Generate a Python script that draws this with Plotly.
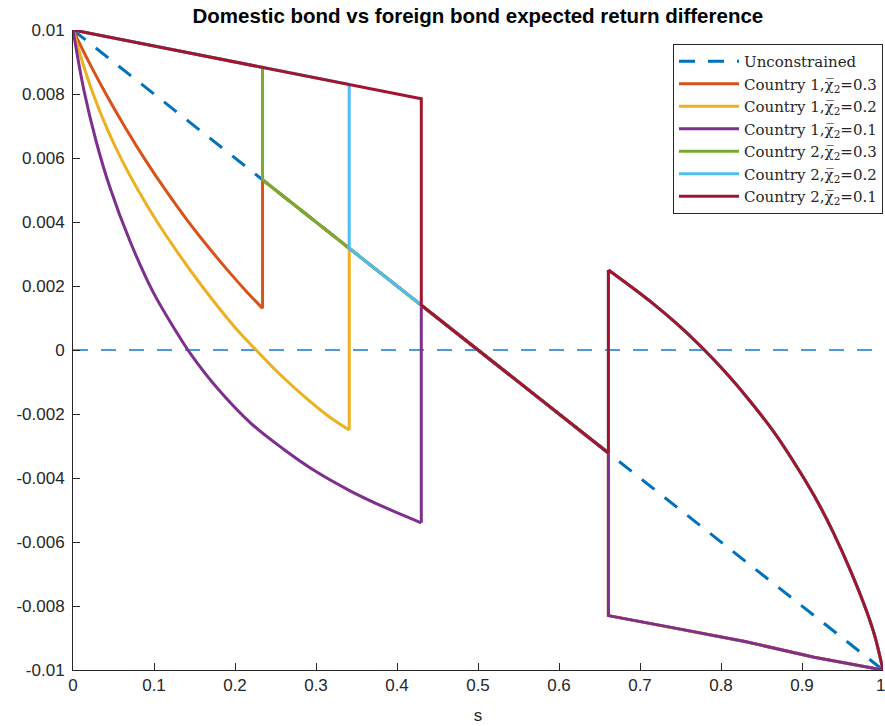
import plotly.graph_objects as go

# ---- data -----------------------------------------------------------------
# unconstrained return difference and the zero reference
s_unc = [0.0, 1.0]
v_unc = [0.01, -0.01]
s_zero = [0.0, 1.0]
v_zero = [0.0, 0.0]

# points on the unconstrained line where a constraint switches on/off
s_kink = [0.234, 0.341, 0.43, 0.661]
v_kink = [0.00532, 0.00318, 0.0014, -0.00322]

# country 2 constraint binding (small s)
s_upper = [0.0, 0.234, 0.341, 0.43]
v_upper = [0.01, 0.00883, 0.0083, 0.00785]

# country 1 constraint binding (large s)
s_lower = [0.661, 0.745, 0.828, 0.915, 1.0]
v_lower = [-0.0083, -0.0087, -0.0091, -0.0096, -0.01]

# country 2 branch for large s
s_high = [0.661, 0.69, 0.7127, 0.745, 0.774, 0.805, 0.836, 0.868, 0.898, 0.92,
          0.939, 0.96, 0.98, 0.99, 1.0]
v_high = [0.0025, 0.00196, 0.00152, 0.00083, 0.00014, -0.00068, -0.0016, -0.00266,
          -0.00383, -0.00478, -0.00572, -0.0069, -0.00818, -0.00895, -0.0100]

# country 1 branches for small s, one per bound
s_c1_03 = [0.0, 0.02, 0.04, 0.065, 0.09, 0.115, 0.14, 0.165, 0.19, 0.213, 0.234]
v_c1_03 = [0.01, 0.00898, 0.00803, 0.00693, 0.00591, 0.00497, 0.00409, 0.00328,
           0.00252, 0.00186, 0.0013]

s_c1_02 = [0.0, 0.012, 0.025, 0.042, 0.06, 0.082, 0.104, 0.13, 0.155, 0.18, 0.205,
           0.226, 0.255, 0.285, 0.315, 0.341]
v_c1_02 = [0.01, 0.00897, 0.00799, 0.00692, 0.00595, 0.00492, 0.0040, 0.00302,
           0.00214, 0.00132, 0.00056, 0.0, -0.00075, -0.00144, -0.00206, -0.0025]

s_c1_01 = [0.0, 0.0136, 0.0288, 0.0453, 0.0704, 0.0991, 0.128, 0.1465, 0.178, 0.22,
           0.26, 0.30, 0.342, 0.385, 0.43]
v_c1_01 = [0.01, 0.0081, 0.0065, 0.0051, 0.0034, 0.0018, 0.00055, -0.00017, -0.00119,
           -0.0023, -0.0031, -0.0038, -0.0044, -0.00492, -0.0054]

bounds = ["0.3", "0.2", "0.1"]
thresholds = [0.234, 0.341, 0.43]

x_ticks = [0, 0.1, 0.2, 0.3, 0.4, 0.5, 0.6, 0.7, 0.8, 0.9, 1]
x_tick_text = ["0", "0.1", "0.2", "0.3", "0.4", "0.5", "0.6", "0.7", "0.8", "0.9", "1"]
y_ticks = [0.01, 0.008, 0.006, 0.004, 0.002, 0, -0.002, -0.004, -0.006, -0.008, -0.01]
y_tick_text = ["0.01", "0.008", "0.006", "0.004", "0.002", "0", "-0.002", "-0.004",
               "-0.006", "-0.008", "-0.01"]

# MATLAB default colour order
c_unc = "#0072BD"
c1_colors = ["#D95319", "#EDB120", "#7E2F8E"]
c2_colors = ["#77AC30", "#4DBEEE", "#A2142F"]
LW = 3


def kinks_from(thr):
    pts = [(s, v) for s, v in zip(s_kink, v_kink) if s >= thr - 1e-9]
    return [p[0] for p in pts], [p[1] for p in pts]


def label(country, bound):
    return f"Country {country},\u03c7\u0305<sub>2</sub>={bound}"


fig = go.Figure()

fig.add_trace(go.Scatter(x=s_zero, y=v_zero, mode="lines", showlegend=False,
                         hoverinfo="skip",
                         line=dict(color="#4d9bd6", width=2, dash="15px,13px")))

fig.add_trace(go.Scatter(x=s_unc, y=v_unc, mode="lines", name="Unconstrained",
                         line=dict(color=c_unc, width=LW, dash="16px,13px")))

# Country 1: curved branch, jump to the unconstrained line, then the lower branch
c1_curves = [(s_c1_03, v_c1_03), (s_c1_02, v_c1_02), (s_c1_01, v_c1_01)]
for (sc, vc), thr, b, col in zip(c1_curves, thresholds, bounds, c1_colors):
    grp = f"c1_{b}"
    ks, kv = kinks_from(thr)
    xs = [sc[-1]] + ks + s_lower
    ys = [vc[-1]] + kv + v_lower
    fig.add_trace(go.Scatter(x=xs, y=ys, mode="lines", legendgroup=grp,
                             showlegend=False, line=dict(color=col, width=LW)))
    fig.add_trace(go.Scatter(x=sc, y=vc, mode="lines", name=label(1, b),
                             legendgroup=grp,
                             line=dict(color=col, width=LW, shape="spline",
                                       smoothing=1.0)))

# Country 2: upper branch, drop to the unconstrained line, then the high branch
for thr, b, col in zip(thresholds, bounds, c2_colors):
    grp = f"c2_{b}"
    us = [s for s in s_upper if s <= thr + 1e-9]
    uv = v_upper[:len(us)]
    ks, kv = kinks_from(thr)
    xs = us + ks + s_high[:1]
    ys = uv + kv + v_high[:1]
    fig.add_trace(go.Scatter(x=xs, y=ys, mode="lines", name=label(2, b),
                             legendgroup=grp, line=dict(color=col, width=LW)))
    fig.add_trace(go.Scatter(x=s_high, y=v_high, mode="lines", legendgroup=grp,
                             showlegend=False,
                             line=dict(color=col, width=LW, shape="spline",
                                       smoothing=1.0)))

axis_col = "#262626"
tick_font = dict(family="Liberation Sans, Arial, sans-serif", size=17, color=axis_col)

# the last x tick label sits at the page edge: draw it right-aligned so it stays whole
axis_tick_text = x_tick_text[:-1] + [""]
fig.add_annotation(x=x_ticks[-1], xref="x", y=0, yref="paper",
                   text=x_tick_text[-1], showarrow=False, xanchor="right",
                   yanchor="top", xshift=4, yshift=-4, font=tick_font)

fig.update_layout(
    width=885, height=726,
    margin=dict(l=73, r=2, t=30, b=56),
    paper_bgcolor="white", plot_bgcolor="white",
    title=dict(text="<b>Domestic bond vs foreign bond expected return difference</b>",
               x=0.54, xanchor="center", y=0.978, yanchor="middle",
               font=dict(family="Liberation Sans, Arial, sans-serif", size=20.5,
                         color="black")),
    legend=dict(x=1, xanchor="right", y=0.978, yanchor="top",
                bgcolor="white", bordercolor=axis_col, borderwidth=1,
                font=dict(family="DejaVu Serif, Liberation Serif, serif", size=15,
                          color=axis_col),
                itemwidth=60, tracegroupgap=0),
    showlegend=True,
)

fig.update_xaxes(range=[0, 1], tickvals=x_ticks, ticktext=axis_tick_text,
                 ticks="inside", ticklen=7, tickcolor=axis_col, tickwidth=1,
                 showline=True, linecolor=axis_col, linewidth=1,
                 showgrid=False, zeroline=False, tickfont=tick_font,
                 automargin=False,
                 title=dict(text="s", font=tick_font, standoff=14))
fig.update_yaxes(range=[-0.01, 0.01], tickvals=y_ticks, ticktext=y_tick_text,
                 ticks="inside", ticklen=7, tickcolor=axis_col, tickwidth=1,
                 showline=True, linecolor=axis_col, linewidth=1,
                 showgrid=False, zeroline=False, tickfont=tick_font,
                 ticklabelstandoff=4)

fig.write_html("out.html")
